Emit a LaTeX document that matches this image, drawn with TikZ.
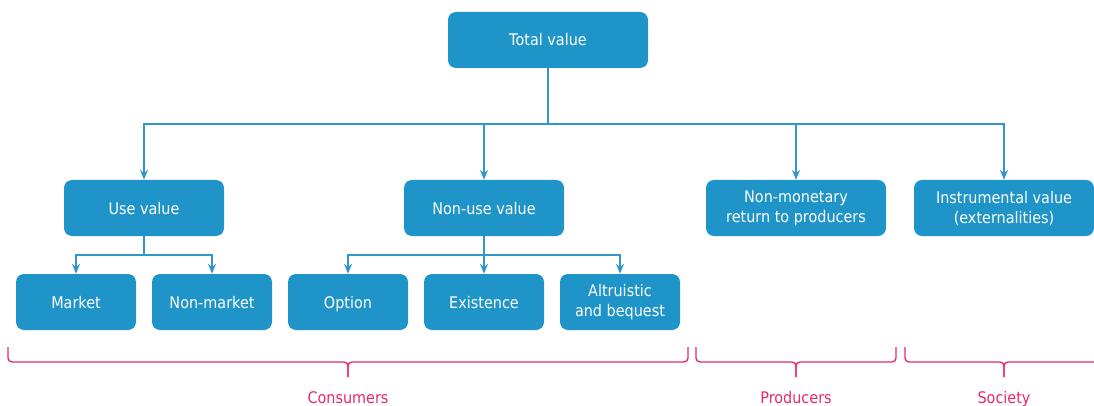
\documentclass[tikz,border=0pt]{standalone}
\usepackage{fontspec}
\setmainfont[FakeStretch=0.9]{DejaVu Sans}
\usetikzlibrary{arrows.meta}
\definecolor{boxblue}{RGB}{31,148,200}
\definecolor{lineblue}{RGB}{49,151,201}
\definecolor{bracepink}{RGB}{230,40,110}
\tikzset{
  vbox/.style={draw=none, fill=boxblue, rounded corners=8pt, text=white, align=center,
    font=\fontsize{16}{20}\selectfont, minimum height=56pt, inner sep=0pt},
  oneline/.style={text height=12pt, text depth=0pt},
  conn/.style={draw=lineblue, line width=1.5pt, -{Stealth[length=10pt,width=8pt]}},
  plain/.style={draw=lineblue, line width=1.5pt},
  bracepath/.style={draw=bracepink, line width=1.4pt, rounded corners=4pt},
  bracelabel/.style={text=bracepink, font=\fontsize{16}{20}\selectfont, text height=12pt, text depth=0pt}
}
\begin{document}
\begin{tikzpicture}[x=1pt,y=-1pt]
\useasboundingbox (0,0) rectangle (1094,406);
\clip (0,0) rectangle (1094,406);
% nodes
\node[vbox, oneline, minimum width=200pt] (total) at (548,40) {Total value};
\node[vbox, oneline, minimum width=160pt] (use) at (144,208) {Use value};
\node[vbox, oneline, minimum width=160pt] (nonuse) at (484,208) {Non-use value};
\node[vbox, minimum width=180pt] (nonmon) at (796,208) {Non-monetary\\return to producers};
\node[vbox, minimum width=180pt] (instr) at (1004,208) {Instrumental value\\(externalities)};
\node[vbox, oneline, minimum width=120pt] (market) at (76,302) {Market};
\node[vbox, oneline, minimum width=120pt] (nonmarket) at (212,302) {Non-market};
\node[vbox, oneline, minimum width=120pt] (option) at (348,302) {Option};
\node[vbox, oneline, minimum width=120pt] (exist) at (484,302) {Existence};
\node[vbox, minimum width=120pt] (altru) at (620,302) {Altruistic\\and bequest};
% junctions
\coordinate (j1) at (548,124);
\coordinate (j2) at (144,255);
\coordinate (j3) at (484,255);
% connectors
\draw[plain] (total.south) -- (j1);
\draw[conn] (j1) -| (use.north);
\draw[conn] (j1) -| (nonuse.north);
\draw[conn] (j1) -| (nonmon.north);
\draw[conn] (j1) -| (instr.north);
\draw[plain] (use.south) -- (j2);
\draw[conn] (j2) -| (market.north);
\draw[conn] (j2) -| (nonmarket.north);
\draw[plain] (nonuse.south) -- (j3);
\draw[conn] (j3) -| (option.north);
\draw[conn] (j3) -- (exist.north);
\draw[conn] (j3) -| (altru.north);
% braces
\draw[bracepath] (8,347) -- (8,362) -- (348,362) -- (348,377);
\draw[bracepath] (688,347) -- (688,362) -- (348,362) -- (348,377);
\draw[bracepath] (696,347) -- (696,362) -- (796,362) -- (796,377);
\draw[bracepath] (896,347) -- (896,362) -- (796,362) -- (796,377);
\draw[bracepath] (905,347) -- (905,362) -- (1004,362) -- (1004,377);
\draw[bracepath] (1110,362) -- (1004,362) -- (1004,377);
\node[bracelabel] (consumers) at (348,397) {Consumers};
\node[bracelabel] (producers) at (796,397) {Producers};
\node[bracelabel] (society) at (1004,397) {Society};
\end{tikzpicture}
\end{document}
